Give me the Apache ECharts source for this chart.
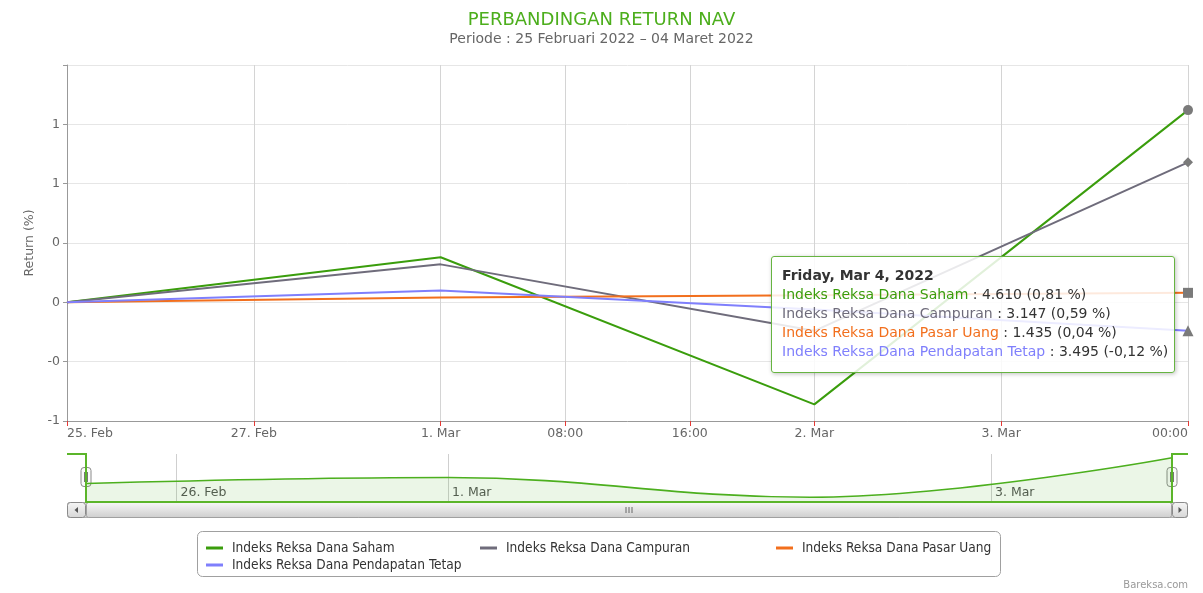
<!DOCTYPE html>
<html><head><meta charset="utf-8">
<script src="https://cdn.jsdelivr.net/npm/echarts@6/dist/echarts.min.js"></script>
<style>html,body{margin:0;padding:0;background:#fff}#c{width:1203px;height:593px}</style>
</head><body><div id="c"></div>
<script>
// ---------- data ----------
const seriesNames = ['Indeks Reksa Dana Saham', 'Indeks Reksa Dana Campuran', 'Indeks Reksa Dana Pasar Uang', 'Indeks Reksa Dana Pendapatan Tetap'];
const tradingDates = ['25 Feb 2022', '1 Mar 2022', '2 Mar 2022', '4 Mar 2022'];
const saham = [0, 0.19, -0.43, 0.81];
const campuran = [0, 0.16, -0.12, 0.59];
const pasarUang = [0, 0.02, 0.03, 0.04];
const pendapatanTetap = [0, 0.05, -0.03, -0.12];
const lastNav = ['4.610', '3.147', '1.435', '3.495'];
const tooltipTitle = 'Friday, Mar 4, 2022';
// ordinal x axis split in sixths of a trading step
const xTickLabels = ['25. Feb', '', '', '27. Feb', '', '', '1. Mar', '', '08:00', '', '16:00', '', '2. Mar', '', '', '3. Mar', '', '', '00:00'];
const pointSlots = [0, 6, 12, 18];
// navigator axis split in quarters
const navTickLabels = ['', '26. Feb', '', '', '1. Mar', '', '', '', '', '', '3. Mar', '', ''];
const navSlots = [0, 4, 8, 12];
const yTickLabels = ['-1', '-0', '0', '0', '1', '1', ''];
const titleText = 'PERBANDINGAN RETURN NAV';
const subtitleText = 'Periode : 25 Februari 2022 \u2013 04 Maret 2022';
const creditText = 'Bareksa.com';

// ---------- styles / layout ----------
const FONT = "'DejaVu Sans', Verdana, sans-serif";
const LEGEND_FONT = "'DejaVu Sans Condensed', 'DejaVu Sans', sans-serif";
const colors = ['#3a9d0c', '#6f6c7b', '#f26f1d', '#7f7ffc'];
const markerSymbols = ['circle', 'diamond', 'rect', 'triangle'];
const values = [saham, campuran, pasarUang, pendapatanTetap];
const P = { left: 67, right: 1188, top: 65, bottom: 421 };
const N = { left: 86, right: 1172, top: 454, bottom: 502 };
const SB = { top: 502, bottom: 518 };
const W = 1203, H = 593;
const yMin = -0.5, yMax = 1, yStep = 0.25;
const legendPos = [[206, 541], [480, 541], [776, 541], [206, 558]];

const chart = echarts.init(document.getElementById('c'), null, { renderer: 'canvas' });

const showTick = (i, v) => v !== '';

const series = values.map((arr, k) => ({
  name: seriesNames[k],
  type: 'line',
  xAxisIndex: 0, yAxisIndex: 0,
  color: colors[k],
  lineStyle: { width: 2, color: colors[k] },
  showAllSymbol: true,
  z: 2 + k,
  emphasis: { disabled: true },
  data: arr.map((v, i) => ({
    value: [pointSlots[i], v],
    symbol: i === arr.length - 1 ? markerSymbols[k] : 'none',
    symbolSize: k === 3 ? 11 : 10,
    itemStyle: { color: '#7a7a7a' }
  }))
}));

series.push({
  name: 'navigator',
  type: 'line',
  xAxisIndex: 1, yAxisIndex: 1,
  smooth: 0.4,
  symbol: 'none',
  silent: true,
  lineStyle: { width: 1.6, color: '#4caf1e' },
  areaStyle: { color: 'rgba(70,170,30,0.15)', origin: 'start' },
  data: saham.map((v, i) => [navSlots[i], v])
});

const fmtPct = v => v.toFixed(2).replace('.', ',');

const grad = (a, b) => new echarts.graphic.LinearGradient(0, 0, 0, 1, [{ offset: 0, color: a }, { offset: 1, color: b }]);
const handle = cx => ({
  type: 'group', children: [
    { type: 'rect', shape: { x: cx - 5, y: 467.5, width: 10, height: 19, r: 3 }, style: { fill: '#fbfbfb', stroke: '#8a8a8a', lineWidth: 1 } },
    { type: 'line', shape: { x1: cx - 1.5, y1: 472, x2: cx - 1.5, y2: 482 }, style: { stroke: '#777', lineWidth: 1 } },
    { type: 'line', shape: { x1: cx + 1.5, y1: 472, x2: cx + 1.5, y2: 482 }, style: { stroke: '#777', lineWidth: 1 } }
  ]
});
const mid = (SB.top + SB.bottom) / 2;
const gc = (N.left + N.right) / 2;

const graphic = [
  // legend frame
  { type: 'rect', shape: { x: 197.5, y: 531.5, width: 803, height: 45, r: 5 }, style: { fill: 'none', stroke: '#a0a0a0', lineWidth: 1 }, silent: true },
  // scrollbar track + thumb
  { type: 'rect', shape: { x: P.left + 0.5, y: SB.top + 0.5, width: P.right - P.left - 1, height: SB.bottom - SB.top - 1, r: 2 }, style: { fill: '#eeeeee', stroke: '#b0b0b0', lineWidth: 1 }, silent: true },
  { type: 'rect', shape: { x: N.left + 0.5, y: SB.top + 0.5, width: N.right - N.left - 1, height: SB.bottom - SB.top - 1, r: 2 }, style: { fill: grad('#f8f8f8', '#cdcdcd'), stroke: '#a0a0a0', lineWidth: 1 }, silent: true },
  { type: 'line', shape: { x1: gc - 3, y1: mid - 3, x2: gc - 3, y2: mid + 3 }, style: { stroke: '#666', lineWidth: 1 } },
  { type: 'line', shape: { x1: gc, y1: mid - 3, x2: gc, y2: mid + 3 }, style: { stroke: '#666', lineWidth: 1 } },
  { type: 'line', shape: { x1: gc + 3, y1: mid - 3, x2: gc + 3, y2: mid + 3 }, style: { stroke: '#666', lineWidth: 1 } },
  // scrollbar buttons
  { type: 'rect', shape: { x: P.left + 0.5, y: SB.top + 0.5, width: N.left - P.left - 1, height: SB.bottom - SB.top - 1, r: 3 }, style: { fill: grad('#f6f6f6', '#d6d6d6'), stroke: '#8a8a8a', lineWidth: 1 }, silent: true },
  { type: 'polygon', shape: { points: [[(P.left + N.left) / 2 - 2, mid], [(P.left + N.left) / 2 + 1.5, mid - 3], [(P.left + N.left) / 2 + 1.5, mid + 3]] }, style: { fill: '#555' } },
  { type: 'rect', shape: { x: N.right + 0.5, y: SB.top + 0.5, width: P.right - N.right - 1, height: SB.bottom - SB.top - 1, r: 3 }, style: { fill: grad('#f6f6f6', '#d6d6d6'), stroke: '#8a8a8a', lineWidth: 1 }, silent: true },
  { type: 'polygon', shape: { points: [[(N.right + P.right) / 2 + 2, mid], [(N.right + P.right) / 2 - 1.5, mid - 3], [(N.right + P.right) / 2 - 1.5, mid + 3]] }, style: { fill: '#555' } },
  // navigator outline
  { type: 'polyline', shape: { points: [[P.left, N.top], [N.left, N.top], [N.left, N.bottom], [N.right, N.bottom], [N.right, N.top], [P.right, N.top]] }, style: { fill: 'none', stroke: '#5bb52a', lineWidth: 2 }, silent: true, z: 10 },
  Object.assign(handle(N.left), { z: 11 }),
  Object.assign(handle(N.right), { z: 11 }),
  // credits
  { type: 'text', x: 1188, y: 585, style: { text: creditText, align: 'right', verticalAlign: 'middle', fontSize: 10, fill: '#999', fontFamily: FONT } }
];

const option = {
  animation: false,
  textStyle: { fontFamily: FONT },
  title: {
    text: titleText, subtext: subtitleText, left: 'center', top: 6, itemGap: 3,
    textStyle: { fontSize: 18, fontWeight: 'normal', color: '#4cae1c', fontFamily: FONT },
    subtextStyle: { fontSize: 14, color: '#666', fontFamily: FONT }
  },
  legend: seriesNames.map((n, k) => ({
    data: [n], left: legendPos[k][0], top: legendPos[k][1], padding: 0,
    icon: 'rect', itemWidth: 17, itemHeight: 3, selectedMode: false,
    textStyle: { fontSize: 13.6, color: '#333', fontFamily: LEGEND_FONT, padding: [0, 0, 0, 4] }
  })),
  grid: [
    { left: P.left, right: W - P.right, top: P.top, bottom: H - P.bottom, containLabel: false },
    { left: N.left, right: W - N.right, top: N.top, bottom: H - N.bottom, containLabel: false }
  ],
  xAxis: [
    {
      type: 'category', gridIndex: 0, data: xTickLabels, boundaryGap: false,
      axisLine: { show: true, onZero: false, lineStyle: { color: '#999', width: 1 } },
      axisTick: { show: true, interval: showTick, length: 5, lineStyle: { color: '#e53935', width: 1 } },
      axisLabel: { interval: showTick, color: '#666', fontSize: 12.5, margin: 6, alignMinLabel: 'left', alignMaxLabel: 'right', showMinLabel: true, showMaxLabel: true },
      splitLine: { show: true, interval: showTick, lineStyle: { color: '#d4d4d4', width: 1 } }
    },
    {
      type: 'category', gridIndex: 1, data: navTickLabels, boundaryGap: false,
      axisLine: { show: false, onZero: false }, axisTick: { show: false },
      axisLabel: { interval: showTick, inside: true, color: '#555', fontSize: 12.5, margin: 3, align: 'left', padding: [0, 0, 0, 4] },
      splitLine: { show: true, interval: showTick, lineStyle: { color: '#cfcfcf', width: 1 } }
    }
  ],
  yAxis: [
    {
      type: 'value', gridIndex: 0, min: yMin, max: yMax, interval: yStep,
      name: 'Return (%)', nameLocation: 'middle', nameGap: 30, nameRotate: 90,
      nameTextStyle: { color: '#666', fontSize: 12.5 },
      axisLine: { show: true, lineStyle: { color: '#999', width: 1 } },
      axisTick: { show: true, length: 4, lineStyle: { color: '#999' } },
      axisLabel: {
        color: '#666', fontSize: 12.5, margin: 7, padding: [0, 0, 6, 0],
        formatter: v => yTickLabels[Math.round((v - yMin) / yStep)]
      },
      splitLine: { show: true, lineStyle: { color: '#e6e6e6', width: 1 } }
    },
    { type: 'value', gridIndex: 1, min: -0.58, max: 0.93, show: false, splitLine: { show: false } }
  ],
  tooltip: {
    trigger: 'item', triggerOn: 'none', alwaysShowContent: true, transitionDuration: 0,
    position: [771, 256], confine: false,
    backgroundColor: 'rgba(255,255,255,0.85)', borderColor: '#66b441', borderWidth: 1.5,
    padding: [9, 6, 11, 10],
    extraCssText: 'box-shadow:1px 1px 4px rgba(0,0,0,0.25);border-radius:3px;',
    formatter: () => {
      let h = '<div style="font-family:' + FONT.replace(/'/g, '') + ';font-size:14px;line-height:19px;color:#333;white-space:nowrap">';
      h += '<div style="font-weight:bold">' + tooltipTitle + '</div>';
      seriesNames.forEach((n, k) => {
        const arr = values[k];
        h += '<div><span style="color:' + colors[k] + '">' + n + '</span> : ' + lastNav[k] + ' (' + fmtPct(arr[arr.length - 1]) + ' %)</div>';
      });
      return h + '</div>';
    }
  },
  graphic: graphic,
  series: series
};
chart.setOption(option);
chart.dispatchAction({ type: 'showTip', seriesIndex: 0, dataIndex: 3 });
</script></body></html>
